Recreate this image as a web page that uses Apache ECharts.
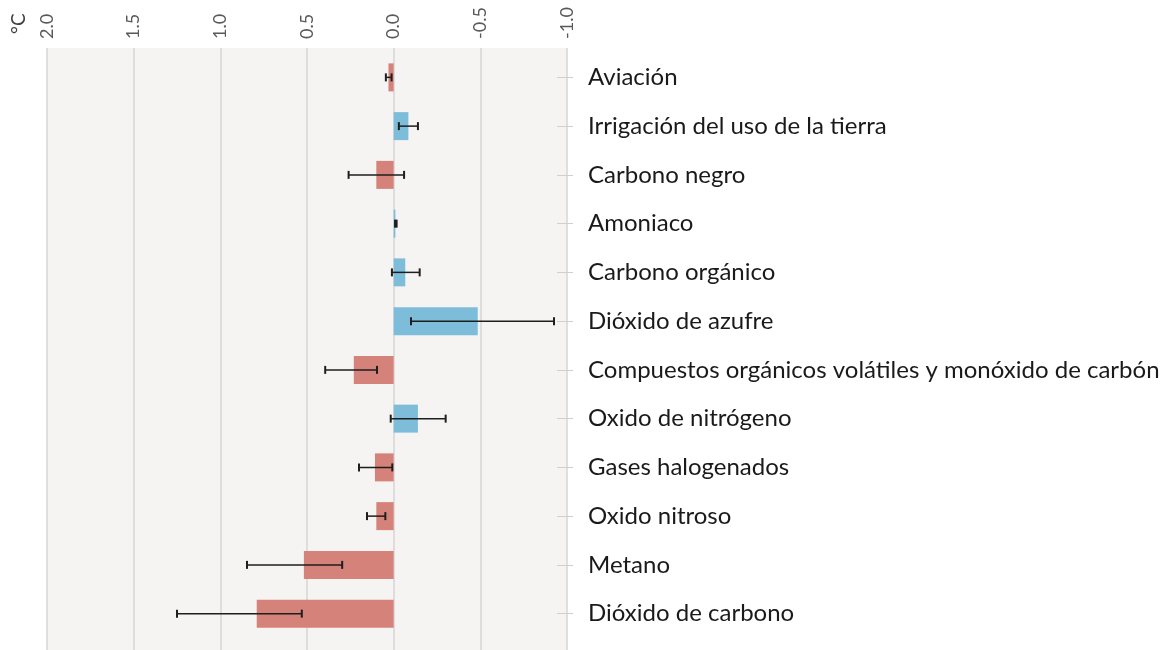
<!DOCTYPE html>
<html>
<head>
<meta charset="utf-8">
<script src="https://cdn.jsdelivr.net/npm/echarts@6/dist/echarts.min.js"></script>
<style>
  html, body { margin: 0; padding: 0; background: #fff; }
  #chart { width: 1165px; height: 650px; }
</style>
</head>
<body>
<div id="chart"></div>
<script>
// categorias de arriba a abajo
const categories = [
  'Aviación',
  'Irrigación del uso de la tierra',
  'Carbono negro',
  'Amoniaco',
  'Carbono orgánico',
  'Dióxido de azufre',
  'Compuestos orgánicos volátiles y monóxido de carbón',
  'Oxido de nitrógeno',
  'Gases halogenados',
  'Oxido nitroso',
  'Metano',
  'Dióxido de carbono'
]
// °C, positivo = calentamiento
const values = [0.03, -0.085, 0.10, -0.01, -0.067, -0.485, 0.23, -0.14, 0.108, 0.10, 0.518, 0.79]
// extremos de las barras de error
const errA = [0.045, -0.03, 0.26, -0.008, 0.01, -0.10, 0.395, 0.017, 0.20, 0.154, 0.846, 1.25]
const errB = [0.012, -0.14, -0.06, -0.017, -0.15, -0.925, 0.096, -0.30, 0.008, 0.048, 0.297, 0.53]
const tickLabels = ['-1.0', '-0.5', '0.0', '0.5', '1.0', '1.5', '2.0']

const RED = '#d5827a'
const BLUE = '#7ebdd9'
const FONT = 'Lato'

const chart = echarts.init(document.getElementById('chart'))

const errData = categories.map((c, i) => [i, errA[i], errB[i]])

chart.setOption({
  animation: false,
  backgroundColor: '#fff',
  grid: [
    { left: 47, right: 598, top: 48, bottom: 0, show: true, backgroundColor: '#f5f4f2', borderWidth: 0 },
    { left: 47, right: 598, top: 53, height: 585 }
  ],
  graphic: [{
    type: 'text',
    x: 9, y: 34,
    rotation: Math.PI / 2,
    style: { text: '°C', font: '19px ' + FONT, fill: '#404040' }
  }],
  xAxis: [{
    gridIndex: 0,
    type: 'value',
    position: 'top',
    min: -1, max: 2, interval: 0.5,
    inverse: true,
    axisLine: { show: false },
    axisTick: { show: false },
    splitLine: { show: true, lineStyle: { color: '#d6d6d6', width: 1.5 } },
    axisLabel: {
      rotate: 90,
      margin: 9,
      fontFamily: FONT,
      fontSize: 18,
      color: '#595959',
      formatter: v => tickLabels[Math.round((v + 1) / 0.5)]
    }
  }, {
    gridIndex: 1,
    type: 'value',
    min: -1, max: 2,
    inverse: true,
    show: false
  }],
  yAxis: [{
    gridIndex: 0,
    type: 'value',
    show: false
  }, {
    gridIndex: 1,
    type: 'category',
    data: categories,
    inverse: true,
    position: 'right',
    offset: -10,
    axisLine: { show: false, onZero: false },
    axisTick: { show: true, alignWithLabel: true, length: 16, lineStyle: { color: '#d0d0d0' } },
    axisLabel: {
      margin: 31,
      fontFamily: FONT,
      fontSize: 24,
      color: '#1a1a1a',
      padding: [0, 0, 12, 0]
    }
  }],
  series: [{
    type: 'bar',
    xAxisIndex: 1,
    yAxisIndex: 1,
    data: values,
    barWidth: 28,
    itemStyle: { color: p => (p.value >= 0 ? RED : BLUE) }
  }, {
    type: 'custom',
    xAxisIndex: 1,
    yAxisIndex: 1,
    data: errData,
    z: 5,
    renderItem: (params, api) => {
      const i = api.value(0)
      const p1 = api.coord([api.value(1), i])
      const p2 = api.coord([api.value(2), i])
      const h = 4
      const st = { stroke: '#1e1e1e', lineWidth: 1.5 }
      return {
        type: 'group',
        children: [
          { type: 'line', shape: { x1: p1[0], y1: p1[1], x2: p2[0], y2: p2[1] }, style: st },
          { type: 'line', shape: { x1: p1[0], y1: p1[1] - h, x2: p1[0], y2: p1[1] + h }, style: { stroke: '#1e1e1e', lineWidth: 2 } },
          { type: 'line', shape: { x1: p2[0], y1: p2[1] - h, x2: p2[0], y2: p2[1] + h }, style: { stroke: '#1e1e1e', lineWidth: 2 } }
        ]
      }
    }
  }]
})
</script>
</body>
</html>
